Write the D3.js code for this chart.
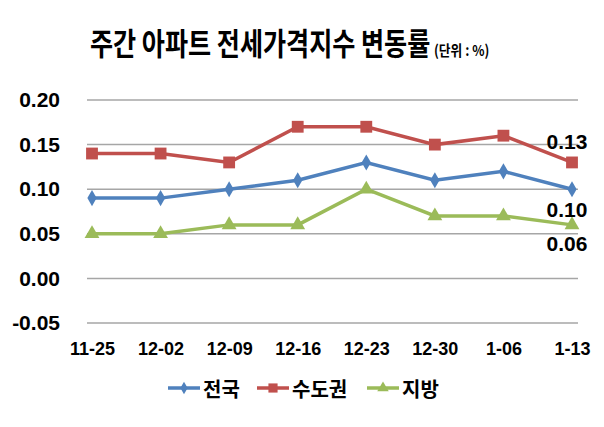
<!DOCTYPE html>
<html>
<head>
<meta charset="utf-8">
<script src="https://cdn.jsdelivr.net/npm/d3@7"></script>
<style>
  body { margin: 0; background: #fff; }
  svg { display: block; }
  text { font-family: "Liberation Sans", Arial, "Noto Sans CJK KR", sans-serif; font-weight: bold; }
  .kr { font-family: "Noto Sans CJK KR", sans-serif; }
</style>
</head>
<body>
<svg id="chart"></svg>
<script>
const weeks = ['11-25', '12-02', '12-09', '12-16', '12-23', '12-30', '1-06', '1-13'];
const nation = [0.09, 0.09, 0.10, 0.11, 0.13, 0.11, 0.12, 0.10];
const capital = [0.14, 0.14, 0.13, 0.17, 0.17, 0.15, 0.16, 0.13];
const local = [0.05, 0.05, 0.06, 0.06, 0.10, 0.07, 0.07, 0.06];
const yTicks = [-0.05, 0, 0.05, 0.10, 0.15, 0.20];
const seriesNames = ['전국', '수도권', '지방'];

const width = 604;
const height = 427;

const svg = d3.select('#chart').attr('width', width).attr('height', height);

const x = d3.scalePoint().domain(weeks).range([92, 572]);
const y = d3.scaleLinear().domain([-0.05, 0.20]).range([323, 100]);
const fmt = (d) => d.toFixed(2);

// gridlines
svg.append('g')
  .selectAll('line')
  .data(yTicks)
  .enter()
  .append('line')
  .attr('x1', 87)
  .attr('x2', 578)
  .attr('y1', (d) => y(d))
  .attr('y2', (d) => y(d))
  .attr('stroke', '#a6a6a6')
  .attr('stroke-width', 1.5);

// y axis labels
const yAxis = d3.axisLeft(y).tickValues(yTicks).tickFormat(fmt).tickSize(0).tickPadding(0);
svg.append('g')
  .attr('transform', 'translate(60,0)')
  .call(yAxis)
  .call((g) => g.select('.domain').remove())
  .selectAll('text')
  .style('font-size', '21px')
  .style('font-family', '"Liberation Sans", Arial, sans-serif')
  .style('font-weight', 'bold')
  .attr('fill', '#000');

// x axis labels
const xAxis = d3.axisBottom(x).tickSize(0).tickPadding(0);
svg.append('g')
  .attr('transform', 'translate(0,342)')
  .call(xAxis)
  .call((g) => g.select('.domain').remove())
  .selectAll('text')
  .style('font-size', '18px')
  .style('font-family', '"Liberation Sans", Arial, sans-serif')
  .style('font-weight', 'bold')
  .attr('fill', '#000');

const series = [
  { name: seriesNames[0], values: nation, color: '#4F81BD', symbol: d3.symbolDiamond, size: 75 },
  { name: seriesNames[1], values: capital, color: '#C0504D', symbol: d3.symbolSquare, size: 140 },
  { name: seriesNames[2], values: local, color: '#9BBB59', symbol: d3.symbolTriangle, size: 95 },
];

const line = d3.line()
  .x((d, i) => x(weeks[i]))
  .y((d) => y(d));

series.forEach((s) => {
  svg.append('path')
    .datum(s.values)
    .attr('d', line)
    .attr('fill', 'none')
    .attr('stroke', s.color)
    .attr('stroke-width', 3.5);

  svg.append('g')
    .selectAll('path')
    .data(s.values)
    .enter()
    .append('path')
    .attr('d', d3.symbol().type(s.symbol).size(s.size))
    .attr('transform', (d, i) => 'translate(' + x(weeks[i]) + ',' + y(d) + ')')
    .attr('fill', s.color);
});

// end labels
const last = weeks.length - 1;
const endLabels = [
  { v: capital[last], dy: -21 },
  { v: nation[last], dy: 20 },
  { v: local[last], dy: 19 },
];
svg.append('g')
  .selectAll('text')
  .data(endLabels)
  .enter()
  .append('text')
  .attr('x', x(weeks[last]) - 5)
  .attr('y', (d) => y(d.v) + d.dy)
  .attr('text-anchor', 'middle')
  .attr('dominant-baseline', 'central')
  .style('font-size', '21px')
  .text((d) => fmt(d.v));

// title (squeezed horizontally like the original's condensed face)
svg.append('text')
  .attr('class', 'kr')
  .attr('transform', 'translate(90,55) scale(0.81,1)')
  .style('font-size', '31px')
  .style('font-weight', 'bold')
  .text('주간 아파트 전세가격지수 변동률');
svg.append('text')
  .attr('class', 'kr')
  .attr('transform', 'translate(434,56) scale(0.85,1)')
  .style('font-size', '15px')
  .style('font-weight', 'bold')
  .text('(단위 : %)');

// legend
const legendX = [168, 257, 367];
const legend = svg.append('g')
  .selectAll('g')
  .data(series)
  .enter()
  .append('g')
  .attr('transform', (d, i) => 'translate(' + legendX[i] + ',388)');
legend.append('line')
  .attr('x1', 0)
  .attr('x2', 32)
  .attr('stroke', (d) => d.color)
  .attr('stroke-width', 3.5);
legend.append('path')
  .attr('d', (d) => d3.symbol().type(d.symbol).size(d.size * 0.6)())
  .attr('transform', 'translate(16,0)')
  .attr('fill', (d) => d.color);
legend.append('text')
  .attr('class', 'kr')
  .attr('x', 35)
  .attr('dominant-baseline', 'central')
  .style('font-size', '20px')
  .text((d) => d.name);
</script>
</body>
</html>
